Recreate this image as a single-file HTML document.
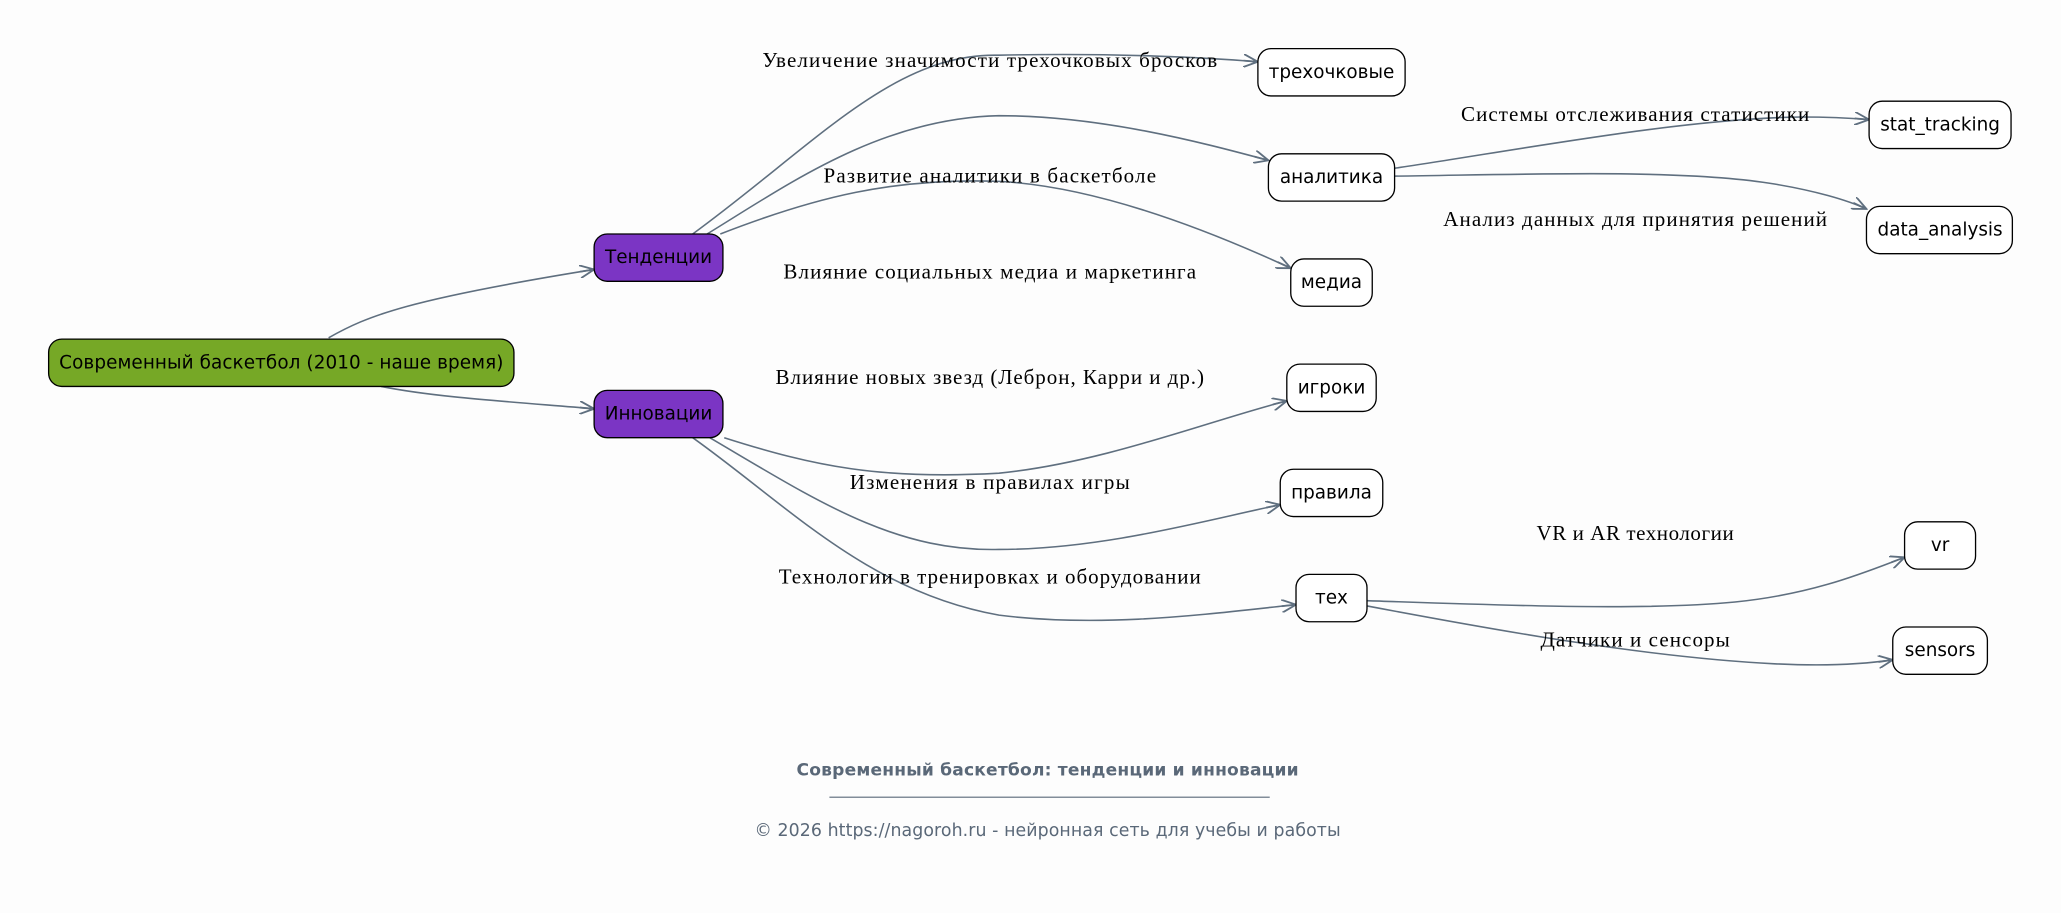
<!DOCTYPE html>
<html><head><meta charset="utf-8"><style>
html,body{margin:0;padding:0;background:#fdfdfd;}
svg{display:block;}
.n{font-family:"DejaVu Sans","Liberation Sans",sans-serif;font-size:14px;fill:#000;text-anchor:middle;dominant-baseline:central;}
.l{font-family:"Liberation Serif","DejaVu Serif",serif;font-size:16px;fill:#000;text-anchor:middle;}
.e{fill:none;stroke:#5f6f7f;stroke-width:1.2;marker-end:url(#a);}
</style></head><body>
<svg width="2061" height="913" viewBox="0 0 1568 694.6" xmlns="http://www.w3.org/2000/svg">
<defs><marker id="a" viewBox="0 0 12 10" refX="11" refY="5" markerWidth="12" markerHeight="10" markerUnits="userSpaceOnUse" orient="auto"><path d="M0,0 L11,5 L0,10 M11,5 L0,5" fill="none" stroke="#5f6f7f" stroke-width="1.4"/></marker></defs>
<rect width="1568" height="695" fill="#fdfdfd"/>
<path class="e" d="M250,257 C280,240 310,228 452,205"/>
<path class="e" d="M290,294 C330,302 380,305 452,311"/>
<path class="e" d="M527,178 C620,110 680,40 760,42 C850,40 920,44 957,47"/>
<path class="e" d="M538,178 C600,140 670,90 760,88 C840,88 920,110 965,122"/>
<path class="e" d="M548,178 C620,150 680,135 760,138 C840,142 930,180 982,204"/>
<path class="e" d="M551,333 C620,355 670,365 760,360 C840,352 920,320 979,305"/>
<path class="e" d="M540,333 C620,380 680,420 760,418 C840,418 920,395 974,384"/>
<path class="e" d="M527,333 C600,385 660,450 760,468 C840,478 920,467 986,460"/>
<path class="e" d="M1061,128 C1150,115 1280,90 1370,89 C1390,89 1410,90 1422,91"/>
<path class="e" d="M1061,134 C1150,133 1280,128 1350,140 C1380,145 1405,152 1420,159"/>
<path class="e" d="M1040,457 C1130,460 1250,465 1320,458 C1380,452 1420,435 1449,424"/>
<path class="e" d="M1040,461 C1130,478 1250,500 1350,505 C1390,507 1420,505 1440,502"/>
<g stroke="#000" stroke-width="1">
<rect x="37" y="258" width="354" height="36" rx="10" fill="#76a826"/>
<rect x="452" y="178" width="98" height="36" rx="10" fill="#7b35c4"/>
<rect x="452" y="297" width="98" height="36" rx="10" fill="#7b35c4"/>
<rect x="957" y="37" width="112" height="36" rx="10" fill="#fff"/>
<rect x="965" y="117" width="96" height="36" rx="10" fill="#fff"/>
<rect x="982" y="197" width="62" height="36" rx="10" fill="#fff"/>
<rect x="979" y="277" width="68" height="36" rx="10" fill="#fff"/>
<rect x="974" y="357" width="78" height="36" rx="10" fill="#fff"/>
<rect x="986" y="437" width="54" height="36" rx="10" fill="#fff"/>
<rect x="1422" y="77" width="108" height="36" rx="10" fill="#fff"/>
<rect x="1420" y="157" width="111" height="36" rx="10" fill="#fff"/>
<rect x="1449" y="397" width="54" height="36" rx="10" fill="#fff"/>
<rect x="1440" y="477" width="72" height="36" rx="10" fill="#fff"/>
</g>
<text class="n" x="214" y="276" textLength="338">Современный баскетбол (2010 - наше время)</text>
<text class="n" x="501" y="196">Тенденции</text>
<text class="n" x="501" y="315">Инновации</text>
<text class="n" x="1013" y="55">трехочковые</text>
<text class="n" x="1013" y="135">аналитика</text>
<text class="n" x="1013" y="215">медиа</text>
<text class="n" x="1013" y="295">игроки</text>
<text class="n" x="1013" y="375">правила</text>
<text class="n" x="1013" y="455">тех</text>
<text class="n" x="1476" y="95">stat_tracking</text>
<text class="n" x="1476" y="175">data_analysis</text>
<text class="n" x="1476" y="415">vr</text>
<text class="n" x="1476" y="495">sensors</text>
<text class="l" x="753" y="51" textLength="346">Увеличение значимости трехочковых бросков</text>
<text class="l" x="753" y="139" textLength="253">Развитие аналитики в баскетболе</text>
<text class="l" x="753" y="212" textLength="314">Влияние социальных медиа и маркетинга</text>
<text class="l" x="753" y="292" textLength="326">Влияние новых звезд (Леброн, Карри и др.)</text>
<text class="l" x="753" y="372" textLength="213">Изменения в правилах игры</text>
<text class="l" x="753" y="444" textLength="321">Технологии в тренировках и оборудовании</text>
<text class="l" x="1244" y="92" textLength="265">Системы отслеживания статистики</text>
<text class="l" x="1244" y="172" textLength="292">Анализ данных для принятия решений</text>
<text class="l" x="1244" y="411" textLength="150">VR и AR технологии</text>
<text class="l" x="1244" y="492" textLength="144">Датчики и сенсоры</text>
<text x="797" y="590" text-anchor="middle" font-family="DejaVu Sans,Liberation Sans,sans-serif" font-size="13" font-weight="bold" fill="#5a6878" textLength="382">Современный баскетбол: тенденции и инновации</text>
<line x1="631" y1="606.5" x2="966" y2="606.5" stroke="#5a6878" stroke-width="0.8"/>
<text x="797" y="636" text-anchor="middle" font-family="DejaVu Sans,Liberation Sans,sans-serif" font-size="13.2" fill="#5a6878" textLength="446">© 2026 https://nagoroh.ru - нейронная сеть для учебы и работы</text>
</svg>
</body></html>
